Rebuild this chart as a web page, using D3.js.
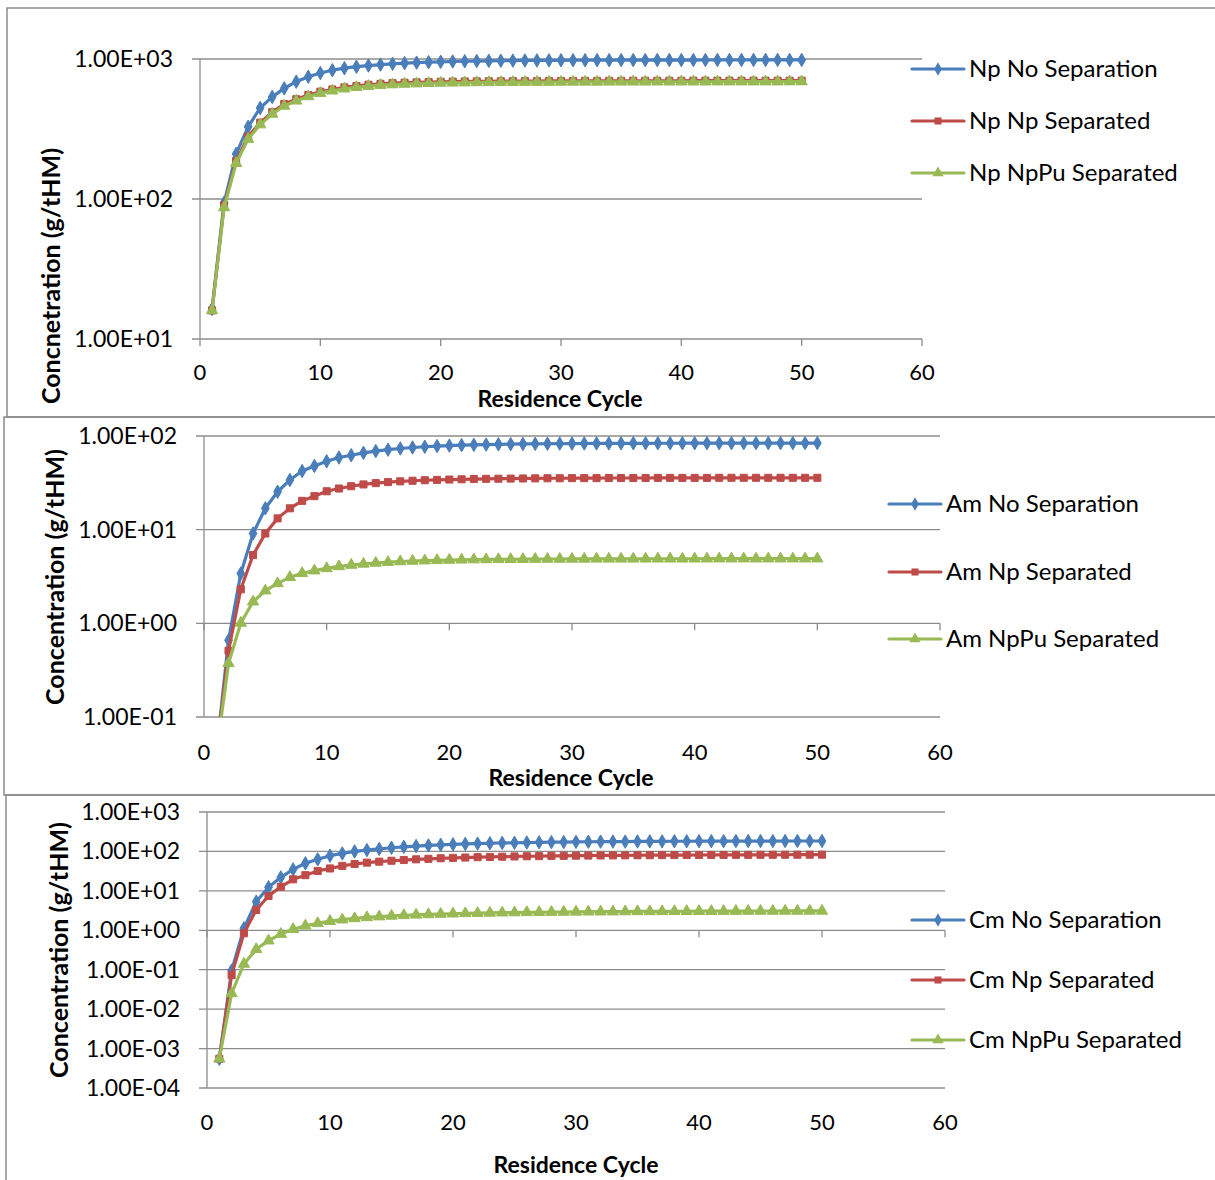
<!DOCTYPE html>
<html>
  <head>
    <meta charset="utf-8">
    <title>Residence cycle concentrations</title>
    <script src="https://d3js.org/d3.v7.min.js"></script>
    <style>
      body { margin: 0; background: #fff; }
      text { font-family: Lato, "Open Sans", sans-serif; fill: #000; }
    </style>
  </head>
  <body>
    <div id="chart"></div>
    <script>
      // residence cycles 1..50
      var cycles = d3.range(1, 51);

      // Np concentrations (g/tHM)
      var npNoSep = [16.4, 94, 210, 328, 447, 536, 617, 689, 747, 794, 832, 860, 881, 898, 912, 924, 934, 942, 949, 955,
        960, 964, 967, 970, 972, 974, 976, 977, 978, 979, 980, 980, 981, 981, 982, 982, 982, 983, 983, 983,
        983, 984, 984, 984, 984, 984, 985, 985, 985, 985];
      var npNpSep = [16, 90, 187, 279, 351, 417, 477, 516, 553, 584, 606, 627, 642, 655, 665, 672, 677, 681, 684, 687,
        689, 691, 692, 693, 694, 695, 696, 696, 697, 697, 697, 698, 698, 698, 698, 699, 699, 699, 699, 699,
        700, 700, 700, 700, 700, 700, 700, 700, 700, 700];
      var npNpPuSep = [16, 87, 180, 268, 340, 405, 462, 503, 540, 570, 593, 613, 628, 640, 650, 657, 663, 667, 671, 674,
        676, 678, 680, 681, 682, 683, 684, 684, 685, 685, 686, 686, 686, 687, 687, 687, 687, 688, 688, 688,
        688, 688, 689, 689, 689, 689, 689, 689, 690, 690];

      // Am concentrations (g/tHM)
      var amNoSep = [0.04, 0.66, 3.4, 9.1, 16.9, 25.4, 33.9, 42.3, 47.9, 53.7, 58.9, 62.3, 66, 69, 71.5, 73.6, 75.4, 76.8, 78, 79,
        79.8, 80.5, 81, 81.5, 81.9, 82.2, 82.5, 82.7, 82.9, 83.1, 83.2, 83.3, 83.4, 83.5, 83.6, 83.6, 83.7, 83.7, 83.8, 83.8,
        83.8, 83.9, 83.9, 83.9, 83.9, 84, 84, 84, 84, 84];
      var amNpSep = [0.04, 0.51, 2.31, 5.36, 9.1, 13.2, 16.9, 20.3, 22.8, 25.7, 27.5, 29.1, 30.4, 31.4, 32.2, 32.8, 33.3, 33.7, 34.0, 34.3,
        34.5, 34.7, 34.9, 35.0, 35.1, 35.2, 35.3, 35.4, 35.4, 35.5, 35.5, 35.5, 35.6, 35.6, 35.6, 35.6, 35.7, 35.7, 35.7, 35.7,
        35.7, 35.8, 35.8, 35.8, 35.8, 35.8, 35.8, 35.8, 35.8, 35.8];
      var amNpPuSep = [0.04, 0.374, 1.01, 1.70, 2.23, 2.67, 3.10, 3.42, 3.65, 3.86, 4.05, 4.19, 4.31, 4.41, 4.50, 4.57, 4.63, 4.67, 4.71, 4.74,
        4.77, 4.79, 4.81, 4.82, 4.83, 4.84, 4.85, 4.86, 4.86, 4.87, 4.87, 4.88, 4.88, 4.88, 4.88, 4.89, 4.89, 4.89, 4.89, 4.89,
        4.9, 4.9, 4.9, 4.9, 4.9, 4.9, 4.9, 4.9, 4.9, 4.9];

      // Cm concentrations (g/tHM)
      var cmNoSep = [0.00055, 0.095, 1.12, 5.3, 12.3, 22, 35, 50, 63, 78, 89, 100, 108, 116, 124, 131, 137, 142, 147, 151,
        155, 158, 161, 164, 166, 168, 170, 172, 173, 175, 176, 177, 178, 178, 179, 180, 180, 181, 181, 182,
        182, 182, 183, 183, 183, 183, 184, 184, 184, 184];
      var cmNpSep = [0.00055, 0.073, 0.84, 3.27, 7.4, 12.7, 19.6, 25, 32, 37, 43, 48, 52, 55, 58, 60.5, 63, 65, 67, 68.5,
        70, 71.5, 72.5, 73.5, 74.5, 75.5, 76, 77, 77.5, 78, 78.5, 79, 79.3, 79.6, 80, 80.2, 80.5, 80.7, 81, 81.2,
        81.4, 81.6, 81.8, 82, 82.1, 82.2, 82.4, 82.5, 82.6, 82.7];
      var cmNpPuSep = [0.00055, 0.025, 0.14, 0.33, 0.545, 0.80, 1.06, 1.3, 1.5, 1.7, 1.86, 2.0, 2.12, 2.22, 2.31, 2.39, 2.46, 2.52, 2.58, 2.63,
        2.68, 2.72, 2.76, 2.79, 2.82, 2.85, 2.87, 2.89, 2.91, 2.93, 2.95, 2.96, 2.97, 2.99, 3.0, 3.01, 3.02, 3.03, 3.04, 3.05,
        3.05, 3.06, 3.07, 3.07, 3.08, 3.08, 3.09, 3.09, 3.1, 3.1];

      var xTicks = [0, 10, 20, 30, 40, 50, 60];
      var npYTicks = [10, 100, 1000];
      var amYTicks = [0.1, 1, 10, 100];
      var cmYTicks = [0.0001, 0.001, 0.01, 0.1, 1, 10, 100, 1000];
      var seriesNames = ["No Separation", "Np Separated", "NpPu Separated"];

      var width = 1215;
      var height = 1180;
      var colors = ["#4a7ebb", "#be4b48", "#98b954"];
      var symbols = [d3.symbolDiamond, d3.symbolSquare, d3.symbolTriangle];
      var symbolSizes = [52, 50, 55];
      var gridColor = "#8c8c8c";

      var svg = d3.select("#chart")
        .append("svg")
        .attr("width", width)
        .attr("height", height);

      // scientific tick label like Excel: 1.00E+03
      function sci(v) {
        var e = Math.round(Math.log10(v));
        var m = v / Math.pow(10, e);
        var sign = e < 0 ? "-" : "+";
        return m.toFixed(2) + "E" + sign + d3.format("02")(Math.abs(e));
      }

      function drawPanel(p, idx) {
        // panel frame
        svg.append("rect")
          .attr("x", p.frame[0]).attr("y", p.frame[1])
          .attr("width", p.frame[2]).attr("height", p.frame[3])
          .attr("fill", "none")
          .attr("stroke", "#8a8a8a")
          .attr("stroke-width", 1.5);

        var x = d3.scaleLinear().domain([0, 60]).range([p.left, p.right]);
        var y = d3.scaleLog().domain(p.yDomain).range([p.bottom, p.top]);
        var g = svg.append("g");

        // horizontal gridlines
        g.selectAll(".grid")
          .data(p.yTicks)
          .enter()
          .append("line")
          .attr("x1", p.left - 8).attr("x2", p.right)
          .attr("y1", function(d) { return y(d); })
          .attr("y2", function(d) { return y(d); })
          .attr("stroke", gridColor)
          .attr("stroke-width", 1.3);

        // vertical axis line
        g.append("line")
          .attr("x1", p.left).attr("x2", p.left)
          .attr("y1", p.top).attr("y2", p.bottom)
          .attr("stroke", gridColor)
          .attr("stroke-width", 1.3);

        // y tick labels
        g.selectAll(".ylab")
          .data(p.yTicks)
          .enter()
          .append("text")
          .attr("x", p.left - 27)
          .attr("y", function(d) { return y(d); })
          .attr("dy", "0.35em")
          .attr("text-anchor", "end")
          .style("font-size", "23px")
          .text(sci);

        // x axis crosses at p.cross, ticks point down
        var cy = y(p.cross);
        g.selectAll(".xtick")
          .data(xTicks)
          .enter()
          .append("line")
          .attr("x1", function(d) { return x(d); })
          .attr("x2", function(d) { return x(d); })
          .attr("y1", cy).attr("y2", cy + 7)
          .attr("stroke", gridColor)
          .attr("stroke-width", 1.3);

        g.selectAll(".xlab")
          .data(xTicks)
          .enter()
          .append("text")
          .attr("x", function(d) { return x(d); })
          .attr("y", p.xLabelY - 1)
          .attr("dy", "0.35em")
          .attr("text-anchor", "middle")
          .style("font-size", "22px")
          .text(function(d) { return d; });

        // axis titles
        g.append("text")
          .attr("x", p.xTitle[0]).attr("y", p.xTitle[1] + 1)
          .attr("dy", "0.35em")
          .attr("text-anchor", "middle")
          .style("font-size", "23px")
          .style("font-weight", "bold")
          .text("Residence Cycle");

        g.append("text")
          .attr("transform", "translate(" + p.yTitle[0] + "," + p.yTitle[1] + ") rotate(-90)")
          .attr("dy", "0.35em")
          .attr("text-anchor", "middle")
          .style("font-size", "25px")
          .style("font-weight", "bold")
          .text(p.yTitleText);

        // clip the lines to the plot area
        var clipId = "clip" + idx;
        svg.append("clipPath")
          .attr("id", clipId)
          .append("rect")
          .attr("x", p.left).attr("y", p.top - 10)
          .attr("width", p.right - p.left).attr("height", p.bottom - p.top + 10);

        var line = d3.line()
          .x(function(d, i) { return x(cycles[i]); })
          .y(function(d) { return y(d); });

        p.series.forEach(function(vals, s) {
          var sg = g.append("g").attr("clip-path", "url(#" + clipId + ")");
          sg.append("path")
            .datum(vals)
            .attr("d", line)
            .attr("fill", "none")
            .attr("stroke", colors[s])
            .attr("stroke-width", 3.2)
            .attr("stroke-linejoin", "round");

          var pts = vals.map(function(v, i) { return { c: cycles[i], v: v }; })
            .filter(function(d) { return d.v >= p.yDomain[0]; });

          sg.selectAll(".pt")
            .data(pts)
            .enter()
            .append("path")
            .attr("transform", function(d) {
              return "translate(" + x(d.c) + "," + y(d.v) + ")";
            })
            .attr("d", d3.symbol().type(symbols[s]).size(symbolSizes[s]))
            .attr("fill", colors[s])
            .attr("stroke", colors[s])
            .attr("stroke-width", 1);
        });

        // legend
        p.legendY.forEach(function(ly, s) {
          g.append("line")
            .attr("x1", p.legendX).attr("x2", p.legendX + 52)
            .attr("y1", ly).attr("y2", ly)
            .attr("stroke", colors[s])
            .attr("stroke-width", 3.2)
            .attr("stroke-linecap", "round");
          g.append("path")
            .attr("transform", "translate(" + (p.legendX + 26) + "," + ly + ")")
            .attr("d", d3.symbol().type(symbols[s]).size(symbolSizes[s]))
            .attr("fill", colors[s]);
          g.append("text")
            .attr("x", p.legendX + 57).attr("y", ly)
            .attr("dy", "0.35em")
            .style("font-size", "24px")
            .text(p.prefix + " " + seriesNames[s]);
        });
      }

      var panels = [
        { frame: [7, 8, 1220, 409], left: 200, right: 922, top: 59, bottom: 339,
          yDomain: [10, 1000], yTicks: npYTicks, cross: 10, xLabelY: 373,
          xTitle: [560, 398], yTitle: [51, 276], yTitleText: "Concnetration (g/tHM)",
          series: [npNoSep, npNpSep, npNpPuSep], prefix: "Np",
          legendX: 912, legendY: [69, 121, 173] },
        { frame: [4, 417, 1220, 378], left: 204, right: 940, top: 436, bottom: 717,
          yDomain: [0.1, 100], yTicks: amYTicks, cross: 1, xLabelY: 753,
          xTitle: [571, 777], yTitle: [55, 577], yTitleText: "Concentration (g/tHM)",
          series: [amNoSep, amNpSep, amNpPuSep], prefix: "Am",
          legendX: 889, legendY: [504, 572, 639] },
        { frame: [6, 795, 1220, 400], left: 207, right: 945, top: 812, bottom: 1088,
          yDomain: [0.0001, 1000], yTicks: cmYTicks, cross: 1, xLabelY: 1123,
          xTitle: [576, 1164], yTitle: [59, 950], yTitleText: "Concentration (g/tHM)",
          series: [cmNoSep, cmNpSep, cmNpPuSep], prefix: "Cm",
          legendX: 912, legendY: [920, 980, 1040] }
      ];

      panels.forEach(drawPanel);
    </script>
  </body>
</html>
